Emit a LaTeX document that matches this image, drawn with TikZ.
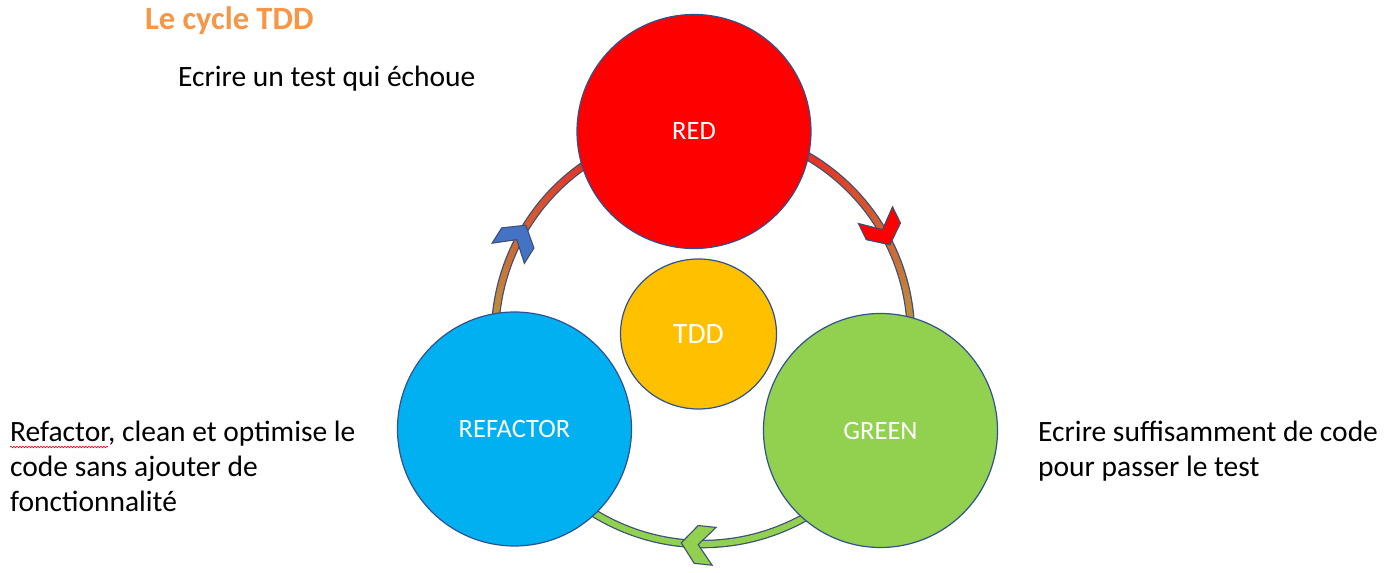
\documentclass[tikz,border=0pt]{standalone}
\usepackage{fontspec}
\setmainfont{Carlito}
\usetikzlibrary{decorations.pathmorphing,shapes.geometric}
\definecolor{redc}{HTML}{FF0000}
\definecolor{greenc}{HTML}{92D050}
\definecolor{bluec}{HTML}{00B0F0}
\definecolor{tddc}{HTML}{FFC000}
\definecolor{edgec}{HTML}{2F528F}
\definecolor{ringedge}{RGB}{60,80,115}
\definecolor{titlec}{HTML}{F79646}
\definecolor{warmA}{RGB}{228,52,38}
\definecolor{warmB}{RGB}{190,140,62}
\definecolor{chevblue}{HTML}{4472C4}
\begin{document}
\begin{tikzpicture}[x=1pt,y=1pt,
  phase/.style={circle, draw=edgec, line width=1.2pt, text=white, inner sep=0pt,
    minimum size=234pt, font=\fontsize{26.5}{30}\selectfont},
  body/.style={anchor=base west, inner sep=0pt, font=\fontsize{29.5}{35}\selectfont},
  chevron/.style={draw=ringedge, line width=1.1pt, line join=miter},
  ringout/.style={ringedge, line width=8.5pt},
  ringin/.style={line width=6pt},
]
\useasboundingbox (0,0) rectangle (1385,573);
\fill[white] (0,0) rectangle (1385,573);
\coordinate (C) at (703,237);
\def\R{208pt}

% bottom arc (green)
\draw[ringout] (C) ++(-28:\R) arc[start angle=-28, end angle=-154, radius=\R];
\draw[ringin, greenc] (C) ++(-28:\R) arc[start angle=-28, end angle=-154, radius=\R];

% left arc (gradient)
\draw[ringout] (C) ++(206:\R) arc[start angle=206, end angle=92.5, radius=\R];
\foreach \i in {0,...,39}{
  \pgfmathsetmacro\a{206-113.5*\i/40}
  \pgfmathsetmacro\b{206-113.5*(\i+1.1)/40}
  \pgfmathsetmacro\p{max(0,min(100,(175-\a)/49*100))}
  \colorlet{seg}{warmA!\p!warmB}
  \draw[ringin, seg] (C) ++(\a:\R) arc[start angle=\a, end angle=\b, radius=\R];
}

% right arc (gradient)
\draw[ringout] (C) ++(92.5:\R) arc[start angle=92.5, end angle=-28, radius=\R];
\foreach \i in {0,...,39}{
  \pgfmathsetmacro\a{92.5-120.5*\i/40}
  \pgfmathsetmacro\b{92.5-120.5*(\i+1.1)/40}
  \pgfmathsetmacro\p{max(0,min(100,(\a-6)/54*100))}
  \colorlet{seg}{warmA!\p!warmB}
  \draw[ringin, seg] (C) ++(\a:\R) arc[start angle=\a, end angle=\b, radius=\R];
}

% chevrons
\begin{scope}[shift={(C)}, rotate=148, shift={(209,0)}, rotate=-90]
  \draw[chevron, fill=chevblue] (0,0) -- (-15,19) -- (-33,19) -- (-17,0) -- (-33,-19) -- (-15,-19) -- cycle;
\end{scope}
\begin{scope}[shift={(C)}, rotate=26, shift={(208,0)}, rotate=-90]
  \draw[chevron, fill=redc] (0,0) -- (-15,19) -- (-33,19) -- (-17,0) -- (-33,-19) -- (-15,-19) -- cycle;
\end{scope}
\begin{scope}[shift={(C)}, rotate=264, shift={(208,0)}, rotate=-90]
  \draw[chevron, fill=greenc] (0,0) -- (-15,19) -- (-33,19) -- (-17,0) -- (-33,-19) -- (-15,-19) -- cycle;
\end{scope}

% circles
\node[phase, fill=redc] (red) at (694,441.5) {RED};
\node[phase, fill=greenc] (green) at (880.5,142.5) {GREEN};
\node[phase, fill=bluec] (refactor) at (514.5,144) {REFACTOR};
\node[ellipse, draw=edgec, line width=1.2pt, fill=tddc, text=white, inner sep=0pt,
  minimum width=156pt, minimum height=150pt, font=\fontsize{29.5}{32}\selectfont] (tdd) at (698.5,239) {TDD};

% texts
\node[anchor=base west, inner sep=0pt, text=titlec, font=\bfseries\fontsize{32.5}{36}\selectfont] (title) at (145,543) {Le cycle TDD};
\node[body] (redtxt) at (178,486) {Ecrire un test qui échoue};
\node[body] (reftxt1) at (10,131) {Refactor, clean et optimise le};
\node[body] (reftxt2) at (10,96) {code sans ajouter de};
\node[body] (reftxt3) at (10,61) {fonctionnalité};
\node[body] (greentxt1) at (1038,131) {Ecrire suffisamment de code};
\node[body] (greentxt2) at (1038,96) {pour passer le test};
\draw[red, line width=0.6pt, decorate, decoration={snake, amplitude=0.8pt, segment length=3pt}]
  (reftxt1.base west) ++(0,-5) -- ++(98,0);
\end{tikzpicture}
\end{document}
